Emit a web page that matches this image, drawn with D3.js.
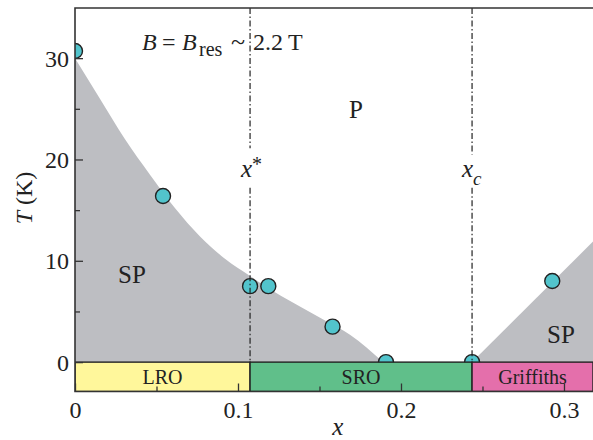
<!DOCTYPE html>
<html>
<head>
<meta charset="utf-8">
<script src="https://cdn.jsdelivr.net/npm/d3@7"></script>
<style>
  body { margin: 0; background: #fff; }
  #chart text { font-family: "Liberation Serif", "DejaVu Serif", serif !important; fill: #222; }
</style>
</head>
<body>
<svg id="chart" width="593" height="440"></svg>
<script>
// measured points (cyan circles)
const xData = [0, 0.054, 0.1074, 0.1186, 0.158, 0.1908, 0.2436, 0.2928];
const tData = [30.7, 16.4, 7.5, 7.5, 3.5, 0, 0, 8.0];

// boundary of the shaded SP region, left side
const spLeftX = [0, 0.0153, 0.0307, 0.046, 0.0613, 0.0767, 0.092, 0.1074, 0.1227, 0.138, 0.1534, 0.1687, 0.189];
const spLeftT = [30.0, 26.0, 22.0, 18.5, 15.2, 12.4, 10.2, 8.5, 6.9, 5.5, 4.1, 2.7, 0];
// right side
const spRightX = [0.2436, 0.3178];
const spRightT = [0, 11.9];

// characteristic compositions
const xStar = 0.1074;
const xC = 0.2436;

// ground state bars
const phaseNames = ["LRO", "SRO", "Griffiths"];
const phaseStart = [0, xStar, xC];
const phaseEnd = [xStar, xC, 0.3178];
const phaseColors = ["#fff79b", "#60bf8a", "#e46fab"];

const xMajor = [0, 0.1, 0.2, 0.3];
const xMinor = [0.05, 0.15, 0.25];
const yMajor = [0, 10, 20, 30];
const yMinor = [5, 15, 25];

const svg = d3.select("#chart");
const pLeft = 75, pRight = 593, pTop = 8, pBottom = 391.5;
const serif = "'Liberation Serif', 'DejaVu Serif', serif";

const x = d3.scaleLinear().domain([0, 0.3178]).range([pLeft, pRight]);
const y = d3.scaleLinear().domain([-2.9, 34.95]).range([pBottom, pTop]);

svg.append("defs").append("clipPath").attr("id", "plot")
  .append("rect")
  .attr("x", pLeft).attr("y", pTop)
  .attr("width", pRight - pLeft).attr("height", pBottom - pTop);

const g = svg.append("g").attr("clip-path", "url(#plot)");

// shaded regions
const leftPoly = spLeftX.map((d, i) => [d, spLeftT[i]]);
const area = d3.area()
  .x(d => x(d[0]))
  .y0(y(-2.9))
  .y1(d => y(d[1]))
  .curve(d3.curveMonotoneX);

g.append("path")
  .datum(leftPoly)
  .attr("d", area)
  .attr("fill", "#bdbec2");

const rightPoly = spRightX.map((d, i) => [d, spRightT[i]]);
g.append("path")
  .datum(rightPoly)
  .attr("d", d3.area().x(d => x(d[0])).y0(y(-2.9)).y1(d => y(d[1])))
  .attr("fill", "#bdbec2");

// data points
const pts = xData.map((d, i) => ({x: d, t: tData[i]}));
g.selectAll("circle")
  .data(pts)
  .enter()
  .append("circle")
  .attr("cx", d => x(d.x))
  .attr("cy", d => y(d.t))
  .attr("r", 7.5)
  .style("fill", "#52c4cc")
  .style("stroke", "#222")
  .style("stroke-width", 1.4);

// phase bars below T = 0
const bars = phaseNames.map((n, i) => ({name: n, x0: phaseStart[i], x1: phaseEnd[i], c: phaseColors[i]}));
g.selectAll("rect.phase")
  .data(bars)
  .enter()
  .append("rect")
  .attr("class", "phase")
  .attr("x", d => x(d.x0))
  .attr("y", y(0))
  .attr("width", d => x(d.x1) - x(d.x0))
  .attr("height", y(-2.9) - y(0))
  .style("fill", d => d.c)
  .style("stroke", "#222")
  .style("stroke-width", 1.4);

svg.selectAll("text.phase")
  .data(bars)
  .enter()
  .append("text")
  .attr("class", "phase")
  .attr("x", d => (x(d.x0) + Math.min(x(d.x1), pRight)) / 2)
  .attr("y", y(-1.45) + 7)
  .attr("text-anchor", "middle")
  .style("font-size", "20px")
  .text(d => d.name);

// dash-dot guide lines, broken where the labels sit
function guide(xv, gapTop, gapBottom) {
  [[34.95, gapTop], [gapBottom, 0]].forEach(seg => {
    svg.append("line")
      .attr("x1", x(xv)).attr("x2", x(xv))
      .attr("y1", y(seg[0])).attr("y2", y(seg[1]))
      .style("stroke", "#222")
      .style("stroke-width", 1.2)
      .style("stroke-dasharray", "6,2.5,1.5,2.5");
  });
}
guide(xStar, 21.1, 17.2);
guide(xC, 20.5, 17.2);

// axes ticks (inside)
const axisColor = "#333";
svg.append("g")
  .attr("transform", `translate(0,${pBottom})`)
  .call(d3.axisBottom(x).tickValues(xMajor).tickSize(-8).tickFormat(d => d === 0 ? "0" : d3.format(".1f")(d)))
  .call(a => a.select(".domain").remove())
  .call(a => a.selectAll("line").style("stroke", axisColor).style("stroke-width", 1.3))
  .call(a => a.selectAll("text").attr("y", 26.5).attr("dy", 0).style("font-size", "24px"));

svg.append("g")
  .attr("transform", `translate(0,${pBottom})`)
  .call(d3.axisBottom(x).tickValues(xMinor).tickSize(-5).tickFormat(""))
  .call(a => a.select(".domain").remove())
  .call(a => a.selectAll("line").style("stroke", axisColor).style("stroke-width", 1.3));

svg.append("g")
  .attr("transform", `translate(${pLeft},0)`)
  .call(d3.axisLeft(y).tickValues(yMajor).tickSize(-8).tickFormat(d3.format("d")))
  .call(a => a.select(".domain").remove())
  .call(a => a.selectAll("line").style("stroke", axisColor).style("stroke-width", 1.3))
  .call(a => a.selectAll("text").attr("x", -6).attr("dy", "0.34em").style("font-size", "24px"));

svg.append("g")
  .attr("transform", `translate(${pLeft},0)`)
  .call(d3.axisLeft(y).tickValues(yMinor).tickSize(-5).tickFormat(""))
  .call(a => a.select(".domain").remove())
  .call(a => a.selectAll("line").style("stroke", axisColor).style("stroke-width", 1.3));

svg.selectAll("g").attr("font-family", serif);

// frame: left, top and bottom spines
svg.append("path")
  .attr("d", `M${pRight},${pTop}H${pLeft}V${pBottom}H${pRight}`)
  .style("fill", "none")
  .style("stroke", axisColor)
  .style("stroke-width", 1.6);

// labels
svg.append("text")
  .attr("x", x(0.1613)).attr("y", 435)
  .attr("text-anchor", "middle")
  .style("font-size", "25px").style("font-style", "italic")
  .text("x");

svg.append("text")
  .attr("transform", "translate(32,198) rotate(-90)")
  .attr("text-anchor", "middle")
  .style("font-size", "24px")
  .call(t => {
    t.append("tspan").style("font-style", "italic").text("T");
    t.append("tspan").text(" (K)");
  });

const title = svg.append("text")
  .attr("y", 50)
  .style("font-size", "24px");
title.append("tspan").attr("x", 142).style("font-style", "italic").text("B");
title.append("tspan").attr("x", 162).text("=");
title.append("tspan").attr("x", 182).style("font-style", "italic").text("B");
title.append("tspan").attr("x", 199).attr("dy", 6).style("font-size", "20px").text("res");
title.append("tspan").attr("x", 231).attr("dy", -6).style("font-size", "26px").text("~");
title.append("tspan").attr("x", 253).text("2.2");
title.append("tspan").attr("x", 288).text("T");

svg.append("text").attr("x", 349).attr("y", 118).style("font-size", "25px").text("P");
svg.append("text").attr("x", 118).attr("y", 283).style("font-size", "25px").text("SP");
svg.append("text").attr("x", 547).attr("y", 343).style("font-size", "25px").text("SP");

const xs = svg.append("text").attr("x", 241).attr("y", 177).style("font-size", "25px");
xs.append("tspan").style("font-style", "italic").text("x");
xs.append("tspan").attr("dy", -6).style("font-size", "20px").text("*");

const xc = svg.append("text").attr("x", 462).attr("y", 177).style("font-size", "25px").style("font-style", "italic");
xc.append("tspan").text("x");
xc.append("tspan").attr("dy", 8).style("font-size", "19px").text("c");
</script>
</body>
</html>
